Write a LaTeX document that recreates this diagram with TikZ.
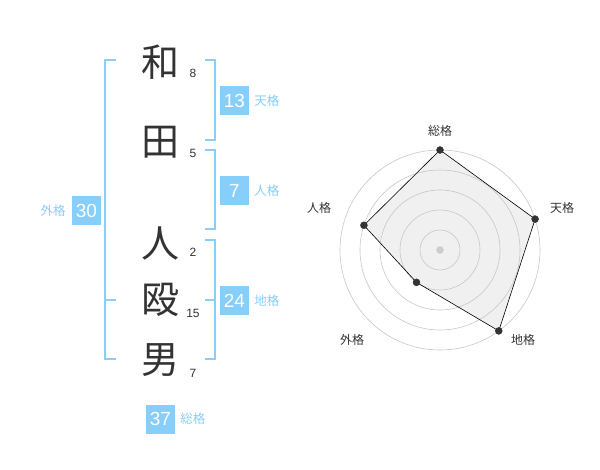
\documentclass[tikz,border=0pt]{standalone}
\usepackage{fontspec}
\setmainfont{Noto Sans CJK JP}
\newfontfamily\digits{Liberation Sans}
\usetikzlibrary{positioning,calc}
\definecolor{skyb}{RGB}{135,206,250}
\definecolor{ink}{RGB}{51,51,51}
\definecolor{web}{RGB}{240,240,240}

\begin{document}
\begin{tikzpicture}[x=1pt,y=-1pt,
    kanji/.style={text=ink,font=\fontsize{38}{38}\selectfont,inner sep=0pt},
    strokes/.style={text=ink,font=\digits\fontsize{12}{12}\selectfont,inner sep=0pt},
    numbox/.style={fill=skyb,text=white,minimum size=29pt,inner sep=0pt,font=\digits\fontsize{19}{19}\selectfont},
    boxlabel/.style={text=skyb,font=\fontsize{12.5}{12.5}\selectfont,inner sep=0pt},
    axislabel/.style={text=ink,font=\fontsize{12}{12}\selectfont,inner sep=0pt},
    brk/.style={skyb,line width=2pt},
    ring/.style={black!22,line width=0.6pt}]
\useasboundingbox (0,0) rectangle (600,470);

                % name
                \node [kanji] (sei1) at (160, 62) {和};
                \node [kanji] (sei2) at (160, 142) {田};
                \node [kanji] (mei1) at (160, 243) {人};
                \node [kanji] (mei2) at (160, 300) {殴};
                \node [kanji] (mei3) at (160, 360) {男};
                \node [strokes] (k1) at (193, 73) {8};
                \node [strokes] (k2) at (193, 153) {5};
                \node [strokes] (k3) at (193, 252) {2};
                \node [strokes] (k4) at (193, 313) {15};
                \node [strokes] (k5) at (193, 373) {7};

                % brackets
                \draw [brk] (116, 60) -- (105, 60) -- (105, 359) -- (116, 359);
                \draw [brk] (105, 300) -- (116, 300);
                \draw [brk] (205, 60) -- (215, 60) -- (215, 140) -- (205, 140);
                \draw [brk] (205, 150) -- (215, 150) -- (215, 229) -- (205, 229);
                \draw [brk] (205, 240) -- (215, 240) -- (215, 359) -- (205, 359);
                \draw [brk] (205, 300) -- (215, 300);

                % totals
                \node [numbox] (ten) at (234.5, 100.5) {13};
                \node [boxlabel, right=5pt of ten] (tenlbl) {天格};
                \node [numbox] (jin) at (234.5, 190.5) {7};
                \node [boxlabel, right=5pt of jin] (jinlbl) {人格};
                \node [numbox] (chi) at (234.5, 300.5) {24};
                \node [boxlabel, right=5pt of chi] (chilbl) {地格};
                \node [numbox] (gai) at (86.5, 210.5) {30};
                \node [boxlabel, left=6pt of gai] (gailbl) {外格};
                \node [numbox] (sou) at (160.5, 419) {37};
                \node [boxlabel, right=5pt of sou] (soulbl) {総格};

                % radar
                \coordinate (c) at (440, 250);
                \coordinate (pSou) at ($(c)+(-90:100)$);
                \coordinate (pTen) at ($(c)+(-18:100)$);
                \coordinate (pChi) at ($(c)+(54:100)$);
                \coordinate (pGai) at ($(c)+(126:40)$);
                \coordinate (pJin) at ($(c)+(198:80)$);
                \fill [web] (pSou) -- (pTen) -- (pChi) -- (pGai) -- (pJin) -- cycle;
                \foreach \r in {20, 40, 60, 80, 100}
                    \draw [ring] (c) circle (\r);
                \draw [black, line width=0.6pt]
                    (pSou) -- (pTen) -- (pChi) -- (pGai) -- (pJin) -- cycle;
                \filldraw [black!20] (c) circle (3.5);
                \foreach \p in {pSou, pTen, pChi, pGai, pJin}
                    \filldraw [ink] (\p) circle (3.5);
                \node [axislabel] (lSou) at (440, 131) {総格};
                \node [axislabel] (lTen) at (562, 208) {天格};
                \node [axislabel] (lJin) at (319, 208) {人格};
                \node [axislabel] (lGai) at (352, 340) {外格};
                \node [axislabel] (lChi) at (523, 340) {地格};
\end{tikzpicture}
\end{document}
